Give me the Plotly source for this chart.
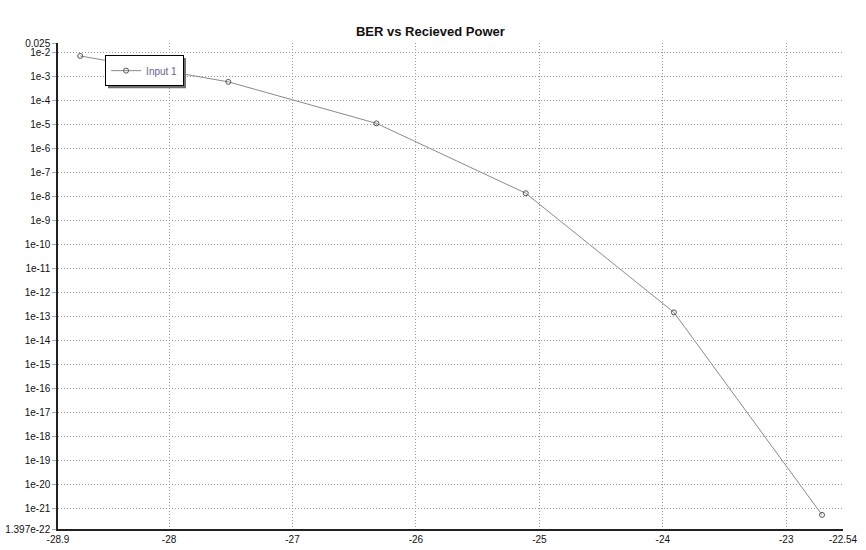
import math
import plotly.graph_objects as go

# Data
received_power = [-28.72, -27.52, -26.32, -25.11, -23.91, -22.71]
ber = [7.2e-3, 6.0e-4, 1.12e-5, 1.37e-8, 1.49e-13, 5.4e-22]
series_name = "Input 1"

x_tickvals = [-28.9, -28, -27, -26, -25, -24, -23, -22.54]
x_ticktext = ["-28.9", "-28", "-27", "-26", "-25", "-24", "-23", "-22.54"]
y_tickvals = [0.025] + [10.0 ** (-k) for k in range(2, 22)] + [1.397e-22]
y_ticktext = ["0.025"] + [f"1e-{k}" for k in range(2, 22)] + ["1.397e-22"]

x_range = [-28.9, -22.54]
y_range = [1.397e-22, 0.025]

fig = go.Figure()
fig.add_trace(go.Scatter(
    x=received_power, y=ber, name=series_name, mode="lines+markers",
    line=dict(color="#8a8a8a", width=1),
    marker=dict(symbol="circle-open", size=5, color="#555555", line=dict(width=1)),
    showlegend=True,
))

font_family = "Liberation Sans, Arial, sans-serif"

# legend drop shadow
fig.add_shape(type="rect", xref="paper", yref="paper",
              x0=0.0637, x1=0.163, y0=0.907, y1=0.969,
              fillcolor="#6e6e6e", line=dict(width=0), layer="above")

fig.update_layout(
    width=866, height=550,
    margin=dict(l=58, r=23, t=43, b=21, autoexpand=False),
    paper_bgcolor="white", plot_bgcolor="white",
    title=dict(text="<b>BER vs Recieved Power</b>", x=0.497, xanchor="center",
               y=1 - 31 / 550, yanchor="middle",
               font=dict(family=font_family, size=13, color="#111111")),
    font=dict(family=font_family, size=10, color="#222222"),
    showlegend=True,
    legend=dict(x=0.06, y=0.975, xanchor="left", yanchor="top",
                bgcolor="white", bordercolor="black", borderwidth=1,
                font=dict(family=font_family, size=10, color="#6a5f8a"),
                itemwidth=30, tracegroupgap=0,
                ),
)

grid_dash = "1px,2px"
fig.update_xaxes(
    range=x_range, tickvals=x_tickvals, ticktext=x_ticktext, automargin=False,
    showline=True, linecolor="#222222", linewidth=1.5,
    showgrid=True, gridcolor="#9a9a9a", griddash=grid_dash, gridwidth=1,
    ticks="", zeroline=False, tickfont=dict(size=10, color="#111111"),
)
fig.update_yaxes(
    type="log", range=[math.log10(y_range[0]), math.log10(y_range[1])],
    tickvals=y_tickvals, ticktext=y_ticktext, automargin=False,
    showline=True, linecolor="#222222", linewidth=1.5,
    showgrid=True, gridcolor="#9a9a9a", griddash=grid_dash, gridwidth=1,
    ticks="outside", ticklen=4, tickcolor="#aaaaaa",
    zeroline=False, tickfont=dict(size=10, color="#111111"),
)

fig.write_html("out.html", config={"displayModeBar": False},
               post_script="document.body.style.margin='0';document.body.style.overflow='hidden';")
